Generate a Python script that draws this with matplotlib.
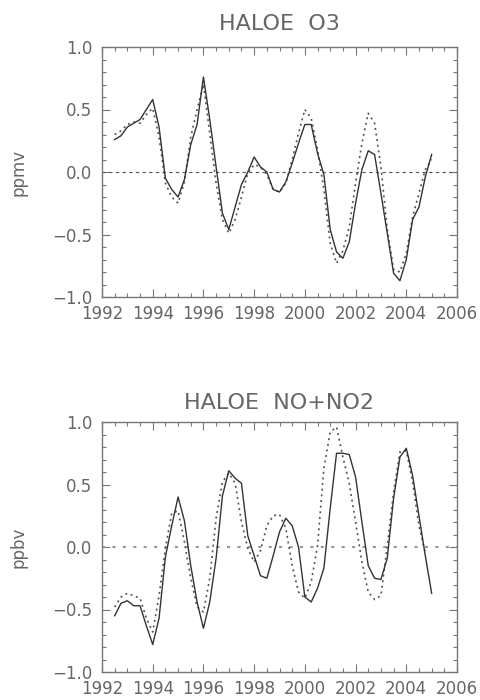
import numpy as np
import matplotlib
matplotlib.use("Agg")
import matplotlib.pyplot as plt
from matplotlib.ticker import MultipleLocator

# time axis: quarterly points from 1992.5 to 2005.0
years = 1992.5 + 0.25 * np.arange(51)

o3_solid = [0.26, 0.29, 0.36, 0.39, 0.42, 0.50, 0.58, 0.36, -0.05, -0.14,
            -0.20, -0.06, 0.22, 0.38, 0.76, 0.42, 0.04, -0.33, -0.46, -0.28,
            -0.10, 0.00, 0.12, 0.04, 0.00, -0.14, -0.16, -0.08, 0.07, 0.23,
            0.38, 0.38, 0.15, -0.02, -0.46, -0.64, -0.69, -0.56, -0.25, 0.02,
            0.17, 0.14, -0.17, -0.49, -0.81, -0.87, -0.70, -0.38, -0.28, -0.04,
            0.14]
o3_dotted = [0.30, 0.33, 0.38, 0.40, 0.39, 0.46, 0.51, 0.28, -0.09, -0.20,
             -0.25, -0.08, 0.28, 0.50, 0.70, 0.31, -0.09, -0.38, -0.49, -0.38,
             -0.20, -0.01, 0.06, 0.04, -0.02, -0.14, -0.16, -0.09, 0.10, 0.31,
             0.50, 0.43, 0.18, -0.14, -0.57, -0.73, -0.63, -0.44, -0.09, 0.23,
             0.47, 0.39, 0.04, -0.46, -0.78, -0.80, -0.65, -0.36, -0.17, 0.02,
             0.10]

nox_solid = [-0.55, -0.45, -0.43, -0.47, -0.47, -0.63, -0.78, -0.57, -0.08, 0.17,
             0.40, 0.21, -0.15, -0.44, -0.65, -0.44, -0.09, 0.41, 0.61, 0.55,
             0.51, 0.09, -0.07, -0.23, -0.25, -0.07, 0.12, 0.23, 0.17, 0.00,
             -0.40, -0.44, -0.33, -0.17, 0.31, 0.75, 0.75, 0.74, 0.56, 0.20,
             -0.15, -0.25, -0.26, -0.09, 0.39, 0.72, 0.79, 0.57, 0.25, -0.07,
             -0.37]
nox_dotted = [-0.48, -0.40, -0.37, -0.39, -0.41, -0.57, -0.68, -0.39, -0.01, 0.27,
              0.29, 0.04, -0.25, -0.48, -0.52, -0.25, 0.23, 0.52, 0.59, 0.51,
              0.20, -0.01, -0.12, -0.03, 0.17, 0.25, 0.26, 0.15, -0.15, -0.36,
              -0.41, -0.28, 0.01, 0.63, 0.92, 0.96, 0.72, 0.51, 0.20, -0.12,
              -0.36, -0.42, -0.39, 0.01, 0.44, 0.76, 0.77, 0.52, 0.17, -0.05]

titles = ["HALOE  O3", "HALOE  NO+NO2"]
ylabels = ["ppmv", "ppbv"]
xticks = list(range(1992, 2007, 2))
yticks = [-1.0, -0.5, 0.0, 0.5, 1.0]

plt.rcParams['font.family'] = ['DejaVu Sans']
fig = plt.figure(figsize=(4.81, 7.0), dpi=100)

axes_pos = [[102/481, 1 - 297/700, 355/481, 250/700],
            [102/481, 1 - 672/700, 355/481, 250/700]]
series = [(o3_solid, o3_dotted), (nox_solid, nox_dotted)]
zero_styles = [dict(color='#555555', linestyle=(0, (3, 3)), linewidth=0.8),
               dict(color='#999999', linestyle=(0, (1.5, 3.5)), linewidth=1.5)]
title_pads = [12, 9]

tc = '#666666'
for i in range(2):
    ax = fig.add_axes(axes_pos[i])
    s, d = series[i]
    ax.axhline(0, **zero_styles[i])
    ax.plot(years[:len(d)], d, color='#555555', linestyle=(0, (1.2, 2.2)),
            linewidth=1.2)
    ax.plot(years[:len(s)], s, color='#333333', linewidth=1.0)
    ax.set_xlim(1992, 2006)
    ax.set_ylim(-1.0, 1.0)
    ax.set_xticks(xticks)
    ax.set_yticks(yticks)
    ax.set_yticklabels([f"{v:.1f}".replace('-', '\u2212') for v in yticks])
    ax.xaxis.set_minor_locator(MultipleLocator(0.5))
    ax.yaxis.set_minor_locator(MultipleLocator(0.1))
    ax.tick_params(which='both', direction='in', top=True, right=True,
                   color='#777777', labelcolor=tc, labelsize=12)
    ax.tick_params(which='major', length=6, width=0.8)
    ax.tick_params(which='minor', length=3, width=0.8)
    ax.tick_params(axis='x', pad=6)
    ax.tick_params(axis='y', pad=7)
    for sp in ax.spines.values():
        sp.set_color('#777777')
        sp.set_linewidth(1.0)
    ax.set_title(titles[i], fontsize=16, color=tc, pad=title_pads[i])
    ax.set_ylabel(ylabels[i], fontsize=12, color=tc, labelpad=18)

fig.savefig("out.png", dpi=100)
